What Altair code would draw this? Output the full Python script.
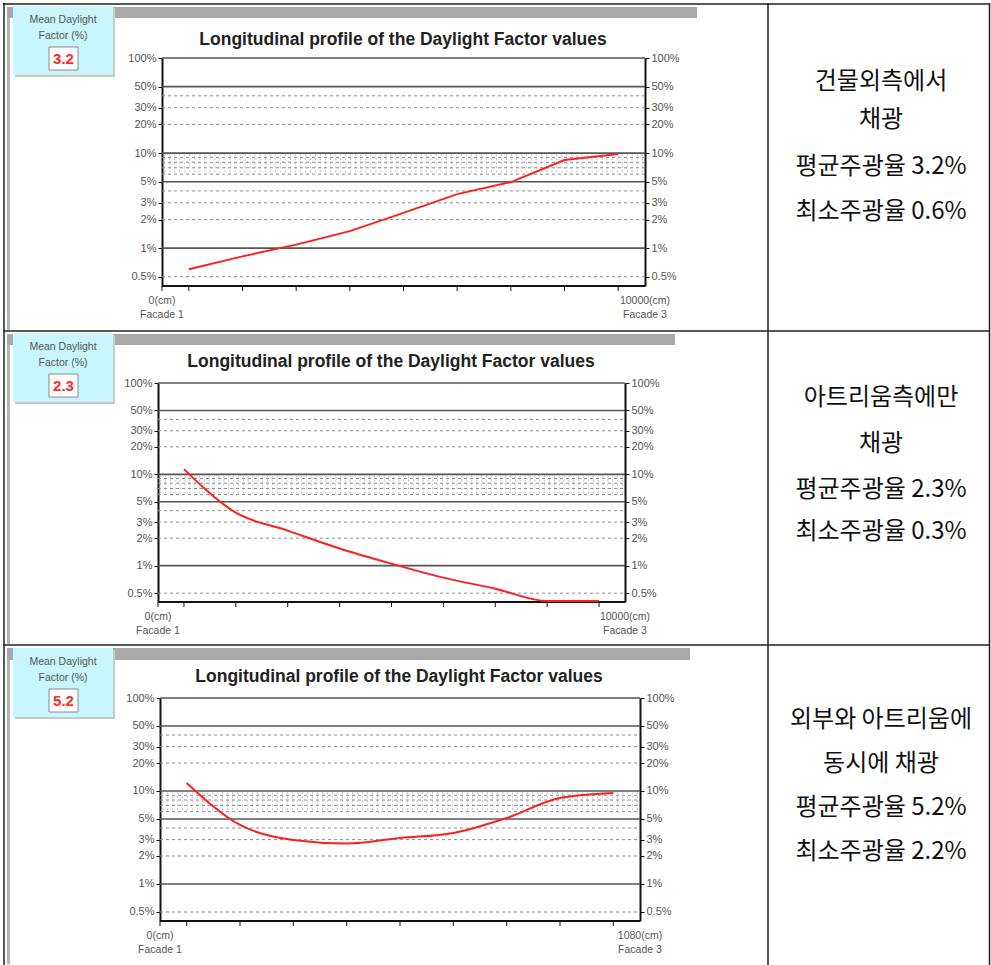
import altair as alt
import numpy as np
import pandas as pd

# ---- data -------------------------------------------------------------
# measuring points along the section (ticks on the x axis)
points = [0, 1, 2, 3, 4, 5, 6, 7, 8]

# daylight factor (%) at each point, one list per case
df_exterior = [0.60, 0.82, 1.09, 1.51, 2.35, 3.70, 4.95, 8.44, 9.77]
df_atrium = [11.4, 3.8, 2.42, 1.54, 1.05, 0.74, 0.56, 0.41, 0.41]
df_both = [12.2, 4.31, 2.97, 2.72, 3.12, 3.54, 5.12, 8.4, 9.5]

mean_df = ["3.2", "2.3", "5.2"]
min_df = ["0.6", "0.3", "2.2"]
case_lines = [
    ["건물외측에서", "채광"],
    ["아트리움측에만", "채광"],
    ["외부와 아트리움에", "동시에 채광"],
]
left_end_label = ["0(cm)", "Facade 1"]
right_end_labels = [["10000(cm)", "Facade 3"], ["10000(cm)", "Facade 3"],
                    ["1080(cm)", "Facade 3"]]

# y axis labels and gridlines (percent)
y_label_values = [100, 50, 30, 20, 10, 5, 3, 2, 1, 0.5]
grid_solid = [100, 50, 10, 5, 1]
grid_dashed = [40, 30, 20, 9, 8, 7, 6, 4, 3, 2, 0.5]
Y_MIN, Y_MAX = 0.4, 100
X_MIN, X_MAX = -0.5, 8.5

TITLE = "Longitudinal profile of the Daylight Factor values"

# ---- layout -----------------------------------------------------------
W, H = 991, 965
LAYOUT = [
    dict(top=4, bottom=331, box=6, bar=(7, 18, 697), tx=403, ty=40,
         x0=162, x1=645, ytop=58, ybot=286, text_y=[82, 120, 167, 212],
         interp="linear"),
    dict(top=331, bottom=645, box=333, bar=(334, 345, 675), tx=391, ty=362,
         x0=158, x1=625, ytop=383, ybot=602, text_y=[398, 444, 490, 532],
         interp="monotone"),
    dict(top=645, bottom=965, box=648, bar=(648, 660, 690), tx=399, ty=677,
         x0=160, x1=640, ytop=698, ybot=921, text_y=[720, 764, 808, 852],
         interp="monotone"),
]
series = [df_exterior, df_atrium, df_both]

one = pd.DataFrame({"k": [0]})
FONT = "Liberation Sans"


def rect(x, x2, y, y2, **kw):
    return alt.Chart(one).mark_rect(**kw).encode(
        x=alt.value(x), x2=alt.value(x2), y=alt.value(y), y2=alt.value(y2))


def hline(y, x, x2, **kw):
    return alt.Chart(one).mark_rule(**kw).encode(
        x=alt.value(x), x2=alt.value(x2), y=alt.value(y))


def vline(x, y, y2, **kw):
    return alt.Chart(one).mark_rule(**kw).encode(
        x=alt.value(x), y=alt.value(y), y2=alt.value(y2))


def label(txt, x, y, **kw):
    return alt.Chart(one).mark_text(text=txt, **kw).encode(
        x=alt.value(x), y=alt.value(y))


def panel_decor(i, L):
    b0, b1, bx = L["bar"]
    t = L["box"]
    return [
        rect(7, 10, L["top"] + 3, L["bottom"] - 1, color="#b5b5b5"),
        rect(7, bx, b0, b1, color="#a9a9a9"),
        rect(15, 115, t + 2, t + 71, color="#c9c9c9"),
        rect(13, 113, t, t + 69, color="#c8f6fa"),
        label("Mean Daylight", 63, t + 14, font=FONT, fontSize=10.5, color="#555"),
        label("Factor (%)", 63, t + 30, font=FONT, fontSize=10.5, color="#555"),
        rect(49, 78, t + 41, t + 64, color="#ffffff", stroke="#8a8a8a", strokeWidth=1),
        label(mean_df[i], 63.5, t + 53, font=FONT, fontSize=15, fontWeight="bold",
              color="#ff2a2a"),
        label(TITLE, L["tx"], L["ty"], font=FONT, fontSize=17.5, fontWeight="bold",
              color="#222"),
    ]


def panel_plot(i, L):
    xs = alt.Scale(domain=[X_MIN, X_MAX], range=[L["x0"], L["x1"]], nice=False,
                   zero=False)
    ys = alt.Scale(type="log", domain=[Y_MIN, Y_MAX], range=[L["ybot"], L["ytop"]],
                   nice=False)
    y_axis_common = dict(
        values=y_label_values, labelExpr="datum.value + '%'", title=None, grid=False,
        domainColor="#111", domainWidth=2, tickColor="#111", tickSize=4,
        labelFont=FONT, labelFontSize=11, labelColor="#555", labelPadding=2,
        labelOverlap=False, labelFlush=False,
    )
    left_axis = alt.Axis(orient="left", offset=-L["x0"], **y_axis_common)
    right_axis = alt.Axis(orient="right", offset=L["x1"] - W, **y_axis_common)

    hatch = pd.DataFrame({"h": np.linspace(-0.45, 8.45, 96)})
    hatch_layer = alt.Chart(hatch).mark_rule(
        color="#c4c4c4", strokeWidth=1, strokeDash=[2, 2]).encode(
        x=alt.X("h:Q", scale=xs, axis=None),
        y=alt.YDatum(9.7, scale=ys, axis=None), y2=alt.Y2Datum(6.1))

    solid = alt.Chart(pd.DataFrame({"v": grid_solid})).mark_rule(
        color="#555", strokeWidth=1.6).encode(
        y=alt.Y("v:Q", scale=ys, axis=left_axis),
        x=alt.XDatum(X_MIN, scale=xs, axis=None), x2=alt.X2Datum(X_MAX))

    dashed = alt.Chart(pd.DataFrame({"v": grid_dashed})).mark_rule(
        color="#8c8c8c", strokeWidth=1, strokeDash=[3, 3]).encode(
        y=alt.Y("v:Q", scale=ys, axis=right_axis),
        x=alt.XDatum(X_MIN, scale=xs, axis=None), x2=alt.X2Datum(X_MAX))

    # bottom axis: baseline, tick marks under each measuring point, end labels
    base = alt.Chart(one).mark_rule(color="#111", strokeWidth=2).encode(
        x=alt.XDatum(X_MIN, scale=xs, axis=None), x2=alt.X2Datum(X_MAX),
        y=alt.YDatum(Y_MIN, scale=ys, axis=None))
    ticks = alt.Chart(pd.DataFrame({"p": [X_MIN] + points})).mark_rule(
        color="#111", strokeWidth=1).encode(
        x=alt.X("p:Q", scale=xs, axis=None),
        y=alt.YDatum(Y_MIN, scale=ys, axis=None), y2=alt.value(L["ybot"] + 5))
    end_style = dict(font=FONT, fontSize=10.5, color="#555", lineHeight=14,
                     baseline="top", align="center")
    left_lbl = alt.Chart(one).mark_text(text=left_end_label, **end_style).encode(
        x=alt.XDatum(X_MIN, scale=xs, axis=None), y=alt.value(L["ybot"] + 10))
    right_lbl = alt.Chart(one).mark_text(text=right_end_labels[i], **end_style).encode(
        x=alt.XDatum(X_MAX, scale=xs, axis=None), y=alt.value(L["ybot"] + 10))

    line = alt.Chart(pd.DataFrame({"p": points, "df": series[i]})).mark_line(
        color="#ff1f1f", strokeWidth=2, interpolate=L["interp"]).encode(
        x=alt.X("p:Q", scale=xs, axis=None),
        y=alt.Y("df:Q", scale=ys, axis=None))

    return alt.layer(hatch_layer, dashed, solid, base, ticks, left_lbl, right_lbl,
                     line).resolve_axis(y="independent")


def caption_layers(i, L):
    lines = case_lines[i] + [f"평균주광율 {mean_df[i]}%", f"최소주광율 {min_df[i]}%"]
    return [label(s, 881, y, font="Noto Sans CJK KR", fontSize=24, color="#111")
            for s, y in zip(lines, L["text_y"])]


decor = []
plots = []
texts = []
for i, L in enumerate(LAYOUT):
    decor += panel_decor(i, L)
    plots.append(panel_plot(i, L))
    texts += caption_layers(i, L)

# table grid
table = [
    hline(4, 3, 990, color="#222", strokeWidth=1.5),
    hline(331, 3, 990, color="#222", strokeWidth=1.5),
    hline(645, 3, 990, color="#222", strokeWidth=1.5),
    vline(4, 3, 965, color="#222", strokeWidth=1.5),
    vline(768, 3, 965, color="#222", strokeWidth=1.5),
    vline(989.5, 3, 965, color="#222", strokeWidth=1.5),
]

chart = alt.layer(*decor, *plots, *texts, *table).resolve_scale(
    x="independent", y="independent"
).properties(
    width=W, height=H, autosize=alt.AutoSizeParams(type="none"), padding=0,
    background="white",
).configure_view(stroke=None)

chart.save("out.html", embed_options={"renderer": "svg", "actions": False})
